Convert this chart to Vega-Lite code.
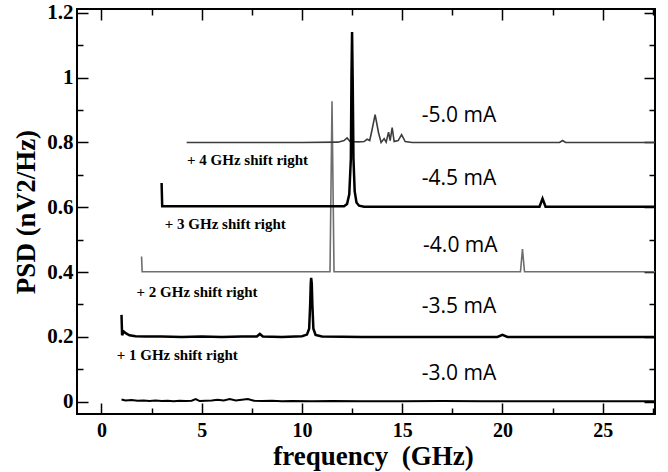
{
  "$schema": "https://vega.github.io/schema/vega-lite/v6.json",
  "width": 578,
  "height": 405,
  "autosize": "none",
  "padding": {"left": 77, "top": 9, "right": 13, "bottom": 58},
  "background": "white",
  "config": {
    "view": {"stroke": "black", "strokeWidth": 2},
    "axis": {
      "grid": false,
      "domain": false,
      "tickColor": "black",
      "tickWidth": 1.5,
      "labelFont": "Liberation Serif",
      "labelFontWeight": "bold",
      "labelFontSize": 21,
      "labelColor": "black",
      "labelOverlap": false,
      "labelFlush": false,
      "titleFont": "Liberation Serif",
      "titleFontWeight": "bold",
      "titleFontSize": 27,
      "titleColor": "black"
    }
  },
  "datasets": {
    "psd": [
      {"s": "-3.0", "f": 1.0, "p": 0.007}, {"s": "-3.0", "f": 1.2, "p": 0.004}, {"s": "-3.0", "f": 1.5, "p": 0.005}, {"s": "-3.0", "f": 1.8, "p": 0.003},
      {"s": "-3.0", "f": 2.1, "p": 0.004}, {"s": "-3.0", "f": 2.4, "p": 0.002}, {"s": "-3.0", "f": 2.7, "p": 0.004}, {"s": "-3.0", "f": 3.0, "p": 0.002},
      {"s": "-3.0", "f": 3.3, "p": 0.003}, {"s": "-3.0", "f": 3.6, "p": 0.001}, {"s": "-3.0", "f": 3.9, "p": 0.003}, {"s": "-3.0", "f": 4.2, "p": 0.002},
      {"s": "-3.0", "f": 4.5, "p": 0.003}, {"s": "-3.0", "f": 4.7, "p": 0.008}, {"s": "-3.0", "f": 4.9, "p": 0.002}, {"s": "-3.0", "f": 5.2, "p": 0.003},
      {"s": "-3.0", "f": 5.5, "p": 0.004}, {"s": "-3.0", "f": 5.8, "p": 0.006}, {"s": "-3.0", "f": 6.1, "p": 0.004}, {"s": "-3.0", "f": 6.4, "p": 0.008},
      {"s": "-3.0", "f": 6.7, "p": 0.004}, {"s": "-3.0", "f": 7.0, "p": 0.006}, {"s": "-3.0", "f": 7.3, "p": 0.008}, {"s": "-3.0", "f": 7.6, "p": 0.003},
      {"s": "-3.0", "f": 8.0, "p": 0.002}, {"s": "-3.0", "f": 8.5, "p": 0.003}, {"s": "-3.0", "f": 9.0, "p": 0.001}, {"s": "-3.0", "f": 9.5, "p": 0.002},
      {"s": "-3.0", "f": 10.5, "p": 0.001}, {"s": "-3.0", "f": 11.5, "p": 0.002}, {"s": "-3.0", "f": 13, "p": 0.001}, {"s": "-3.0", "f": 15, "p": 0.001},
      {"s": "-3.0", "f": 17, "p": 0.002}, {"s": "-3.0", "f": 19, "p": 0.001}, {"s": "-3.0", "f": 21, "p": 0.001}, {"s": "-3.0", "f": 23, "p": 0.001},
      {"s": "-3.0", "f": 25, "p": 0.001}, {"s": "-3.0", "f": 27.61, "p": 0.001},

      {"s": "-3.5", "f": 1.0, "p": 0.268}, {"s": "-3.5", "f": 1.03, "p": 0.205}, {"s": "-3.5", "f": 1.12, "p": 0.216}, {"s": "-3.5", "f": 1.25, "p": 0.21},
      {"s": "-3.5", "f": 1.4, "p": 0.205}, {"s": "-3.5", "f": 1.7, "p": 0.202}, {"s": "-3.5", "f": 2.2, "p": 0.201}, {"s": "-3.5", "f": 3, "p": 0.201},
      {"s": "-3.5", "f": 4, "p": 0.2}, {"s": "-3.5", "f": 5, "p": 0.201}, {"s": "-3.5", "f": 6, "p": 0.2}, {"s": "-3.5", "f": 7, "p": 0.201},
      {"s": "-3.5", "f": 7.75, "p": 0.201}, {"s": "-3.5", "f": 7.9, "p": 0.209}, {"s": "-3.5", "f": 8.05, "p": 0.201}, {"s": "-3.5", "f": 9, "p": 0.2},
      {"s": "-3.5", "f": 10, "p": 0.202}, {"s": "-3.5", "f": 10.25, "p": 0.207}, {"s": "-3.5", "f": 10.36, "p": 0.225}, {"s": "-3.5", "f": 10.41, "p": 0.3},
      {"s": "-3.5", "f": 10.44, "p": 0.365}, {"s": "-3.5", "f": 10.46, "p": 0.382}, {"s": "-3.5", "f": 10.49, "p": 0.365}, {"s": "-3.5", "f": 10.52, "p": 0.3},
      {"s": "-3.5", "f": 10.57, "p": 0.225}, {"s": "-3.5", "f": 10.68, "p": 0.206}, {"s": "-3.5", "f": 11, "p": 0.201}, {"s": "-3.5", "f": 13, "p": 0.2},
      {"s": "-3.5", "f": 15, "p": 0.2}, {"s": "-3.5", "f": 17, "p": 0.2}, {"s": "-3.5", "f": 19.75, "p": 0.2}, {"s": "-3.5", "f": 20.0, "p": 0.206},
      {"s": "-3.5", "f": 20.25, "p": 0.2}, {"s": "-3.5", "f": 23, "p": 0.2}, {"s": "-3.5", "f": 27.61, "p": 0.2},

      {"s": "-4.0", "f": 2.0, "p": 0.448}, {"s": "-4.0", "f": 2.03, "p": 0.401}, {"s": "-4.0", "f": 6, "p": 0.401}, {"s": "-4.0", "f": 11.4, "p": 0.401},
      {"s": "-4.0", "f": 11.5, "p": 0.927}, {"s": "-4.0", "f": 11.6, "p": 0.401}, {"s": "-4.0", "f": 16, "p": 0.401}, {"s": "-4.0", "f": 20.9, "p": 0.401},
      {"s": "-4.0", "f": 21.0, "p": 0.471}, {"s": "-4.0", "f": 21.1, "p": 0.401}, {"s": "-4.0", "f": 27.61, "p": 0.401},

      {"s": "-5.0", "f": 4.25, "p": 0.8}, {"s": "-5.0", "f": 7, "p": 0.8}, {"s": "-5.0", "f": 10, "p": 0.8}, {"s": "-5.0", "f": 11.8, "p": 0.801},
      {"s": "-5.0", "f": 12.1, "p": 0.806}, {"s": "-5.0", "f": 12.25, "p": 0.814}, {"s": "-5.0", "f": 12.4, "p": 0.803}, {"s": "-5.0", "f": 12.8, "p": 0.802},
      {"s": "-5.0", "f": 13.1, "p": 0.803}, {"s": "-5.0", "f": 13.25, "p": 0.81}, {"s": "-5.0", "f": 13.38, "p": 0.806}, {"s": "-5.0", "f": 13.5, "p": 0.84},
      {"s": "-5.0", "f": 13.65, "p": 0.886}, {"s": "-5.0", "f": 13.82, "p": 0.83}, {"s": "-5.0", "f": 13.95, "p": 0.8}, {"s": "-5.0", "f": 14.1, "p": 0.812},
      {"s": "-5.0", "f": 14.2, "p": 0.801}, {"s": "-5.0", "f": 14.32, "p": 0.832}, {"s": "-5.0", "f": 14.4, "p": 0.806}, {"s": "-5.0", "f": 14.5, "p": 0.846},
      {"s": "-5.0", "f": 14.6, "p": 0.803}, {"s": "-5.0", "f": 14.8, "p": 0.806}, {"s": "-5.0", "f": 14.97, "p": 0.824}, {"s": "-5.0", "f": 15.15, "p": 0.803},
      {"s": "-5.0", "f": 15.5, "p": 0.8}, {"s": "-5.0", "f": 19, "p": 0.8}, {"s": "-5.0", "f": 22.85, "p": 0.8}, {"s": "-5.0", "f": 23.0, "p": 0.806},
      {"s": "-5.0", "f": 23.15, "p": 0.8}, {"s": "-5.0", "f": 27.61, "p": 0.8},

      {"s": "-4.5", "f": 3.0, "p": 0.675}, {"s": "-4.5", "f": 3.03, "p": 0.603}, {"s": "-4.5", "f": 8, "p": 0.603}, {"s": "-4.5", "f": 12.1, "p": 0.603},
      {"s": "-4.5", "f": 12.25, "p": 0.61}, {"s": "-4.5", "f": 12.36, "p": 0.64}, {"s": "-4.5", "f": 12.44, "p": 0.75}, {"s": "-4.5", "f": 12.47, "p": 1.0},
      {"s": "-4.5", "f": 12.5, "p": 1.141}, {"s": "-4.5", "f": 12.53, "p": 1.0}, {"s": "-4.5", "f": 12.57, "p": 0.75}, {"s": "-4.5", "f": 12.63, "p": 0.65},
      {"s": "-4.5", "f": 12.72, "p": 0.615}, {"s": "-4.5", "f": 12.85, "p": 0.605},
      {"s": "-4.5", "f": 13.1, "p": 0.602}, {"s": "-4.5", "f": 17, "p": 0.602}, {"s": "-4.5", "f": 21.85, "p": 0.602}, {"s": "-4.5", "f": 22.0, "p": 0.627},
      {"s": "-4.5", "f": 22.15, "p": 0.602}, {"s": "-4.5", "f": 27.61, "p": 0.602}
    ],
    "labels": [
      {"x": 17.83, "y": 0.883, "t": "-5.0 mA"},
      {"x": 17.83, "y": 0.688, "t": "-4.5 mA"},
      {"x": 17.9, "y": 0.479, "t": "-4.0 mA"},
      {"x": 17.83, "y": 0.292, "t": "-3.5 mA"},
      {"x": 17.83, "y": 0.086, "t": "-3.0 mA"}
    ],
    "shifts": [
      {"x": 4.27, "y": 0.747, "t": "+ 4 GHz shift right"},
      {"x": 3.16, "y": 0.549, "t": "+ 3 GHz shift right"},
      {"x": 1.75, "y": 0.34, "t": "+ 2 GHz shift right"},
      {"x": 0.76, "y": 0.145, "t": "+ 1 GHz shift right"}
    ]
  },
  "resolve": {"scale": {"x": "shared", "y": "shared"}, "axis": {"x": "independent", "y": "independent"}},
  "layer": [
    {
      "data": {"name": "psd"},
      "transform": [{"filter": "datum.s === '-3.0'"}],
      "mark": {"type": "line", "color": "black", "strokeWidth": 2, "clip": true},
      "encoding": {
        "x": {"field": "f", "type": "quantitative",
          "scale": {"domain": [-1.22, 27.61], "nice": false, "zero": false},
          "axis": {"orient": "bottom", "title": "frequency \u00a0(GHz)",
            "values": [0, 5, 10, 15, 20, 25], "format": "d", "labelFontSize": 20,
            "ticks": false, "labelPadding": 6, "titlePadding": 3, "titleX": 296, "titleFontSize": 27}},
        "y": {"field": "p", "type": "quantitative",
          "scale": {"domain": [-0.038, 1.212], "nice": false, "zero": false},
          "axis": {"orient": "left", "title": "PSD (nV2/Hz)",
            "values": [0, 0.2, 0.4, 0.6, 0.8, 1.0, 1.2], "format": "~g",
            "ticks": false, "labelPadding": 4, "titlePadding": 6}}
      }
    },
    {
      "data": {"name": "psd"},
      "transform": [{"filter": "datum.s === '-3.5'"}],
      "mark": {"type": "line", "color": "black", "strokeWidth": 2.5, "clip": true},
      "encoding": {
        "x": {"field": "f", "type": "quantitative",
          "axis": {"orient": "bottom", "title": null, "labels": false, "offset": -11,
            "values": [0, 5, 10, 15, 20, 25], "tickSize": 11}},
        "y": {"field": "p", "type": "quantitative",
          "axis": {"orient": "left", "title": null, "labels": false, "offset": -11,
            "values": [0, 0.2, 0.4, 0.6, 0.8, 1.0, 1.2], "tickSize": 11}}
      }
    },
    {
      "data": {"name": "psd"},
      "transform": [{"filter": "datum.s === '-4.0'"}],
      "mark": {"type": "line", "color": "#6e6e6e", "strokeWidth": 1.6, "clip": true},
      "encoding": {
        "x": {"field": "f", "type": "quantitative",
          "axis": {"orient": "bottom", "title": null, "labels": false, "offset": -6,
            "values": [2.5, 7.5, 12.5, 17.5, 22.5, 27.5], "tickSize": 6}},
        "y": {"field": "p", "type": "quantitative",
          "axis": {"orient": "left", "title": null, "labels": false, "offset": -6,
            "values": [0.1, 0.3, 0.5, 0.7, 0.9, 1.1], "tickSize": 6}}
      }
    },
    {
      "data": {"name": "psd"},
      "transform": [{"filter": "datum.s === '-5.0'"}],
      "mark": {"type": "line", "color": "#3c3c3c", "strokeWidth": 1.6, "clip": true},
      "encoding": {
        "x": {"field": "f", "type": "quantitative",
          "axis": {"orient": "top", "title": null, "labels": false, "offset": -11,
            "values": [0, 5, 10, 15, 20, 25], "tickSize": 11}},
        "y": {"field": "p", "type": "quantitative",
          "axis": {"orient": "right", "title": null, "labels": false, "offset": -11,
            "values": [0, 0.2, 0.4, 0.6, 0.8, 1.0, 1.2], "tickSize": 11}}
      }
    },
    {
      "data": {"name": "psd"},
      "transform": [{"filter": "datum.s === '-4.5'"}],
      "mark": {"type": "line", "color": "black", "strokeWidth": 2.5, "clip": true},
      "encoding": {
        "x": {"field": "f", "type": "quantitative",
          "axis": {"orient": "top", "title": null, "labels": false, "offset": -6,
            "values": [2.5, 7.5, 12.5, 17.5, 22.5, 27.5], "tickSize": 6}},
        "y": {"field": "p", "type": "quantitative",
          "axis": {"orient": "right", "title": null, "labels": false, "offset": -6,
            "values": [0.1, 0.3, 0.5, 0.7, 0.9, 1.1], "tickSize": 6}}
      }
    },
    {
      "data": {"name": "labels"},
      "mark": {"type": "text", "font": "Open Sans", "fontSize": 21, "color": "black", "align": "center", "baseline": "middle"},
      "encoding": {
        "x": {"field": "x", "type": "quantitative", "axis": null},
        "y": {"field": "y", "type": "quantitative", "axis": null},
        "text": {"field": "t"}
      }
    },
    {
      "data": {"name": "shifts"},
      "mark": {"type": "text", "font": "Liberation Serif", "fontSize": 15, "fontWeight": "bold", "color": "black", "align": "left", "baseline": "middle"},
      "encoding": {
        "x": {"field": "x", "type": "quantitative", "axis": null},
        "y": {"field": "y", "type": "quantitative", "axis": null},
        "text": {"field": "t"}
      }
    }
  ]
}
